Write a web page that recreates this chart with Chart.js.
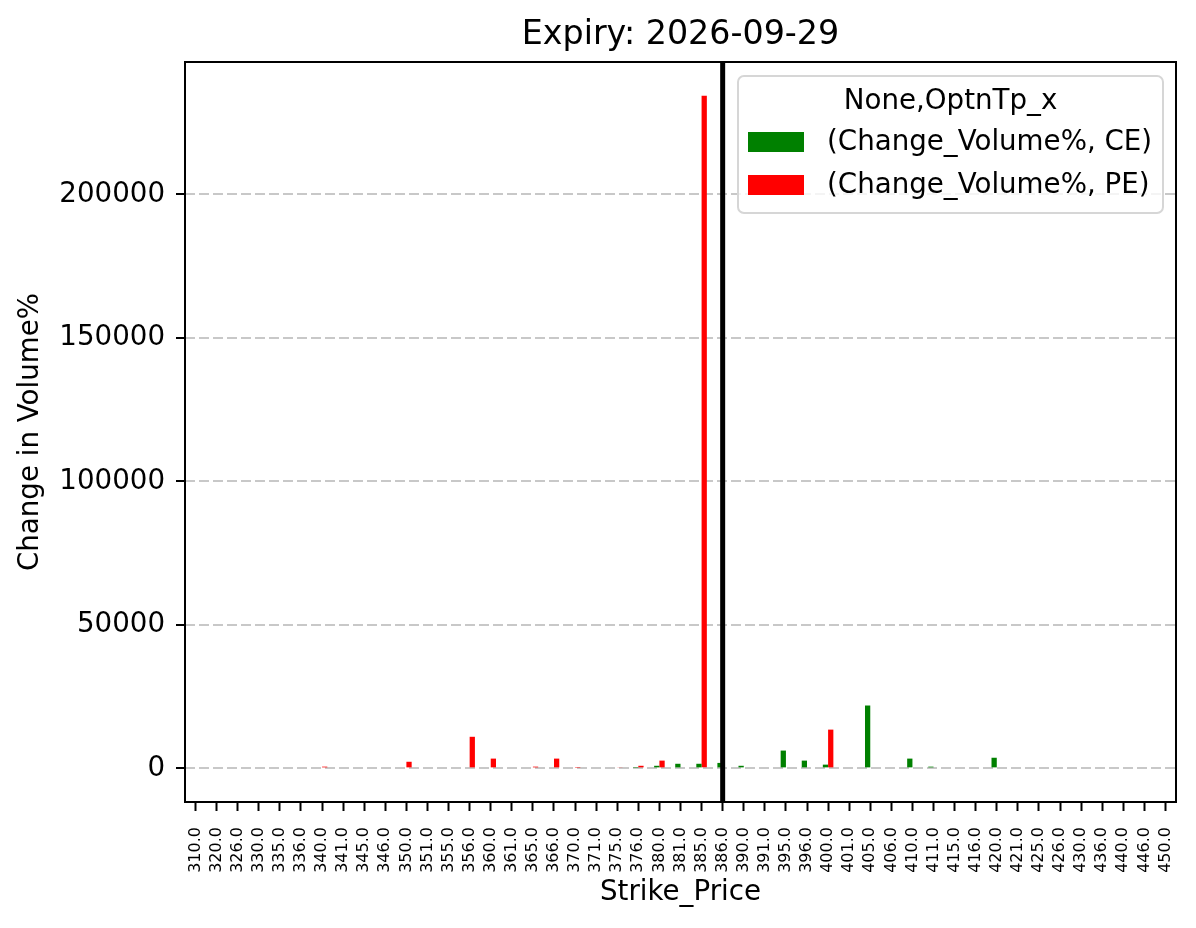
<!DOCTYPE html>
<html>
<head>
<meta charset="utf-8">
<title>Expiry: 2026-09-29</title>
<script src="https://cdn.jsdelivr.net/npm/chart.js@4.4.1/dist/chart.umd.min.js"></script>
<style>
  html, body { margin: 0; padding: 0; background: #fff; }
  #wrap { width: 1196px; height: 928px; }
</style>
</head>
<body>
<div id="wrap"><canvas id="volChart" width="1196" height="928"></canvas></div>
<script>
// strike prices (x categories)
const strikes = ['310.0', '320.0', '326.0', '330.0', '335.0', '336.0', '340.0', '341.0', '345.0', '346.0',
  '350.0', '351.0', '355.0', '356.0', '360.0', '361.0', '365.0', '366.0', '370.0', '371.0',
  '375.0', '376.0', '380.0', '381.0', '385.0', '386.0', '390.0', '391.0', '395.0', '396.0',
  '400.0', '401.0', '405.0', '406.0', '410.0', '411.0', '415.0', '416.0', '420.0', '421.0',
  '425.0', '426.0', '430.0', '436.0', '440.0', '446.0', '450.0'];

// Change_Volume% for calls (CE)
const ceValues = [0, 0, 0, 0, 0, 0, 0, 0, 0, 0,
  0, 0, 0, 0, 0, 0, 0, 0, 0, 0,
  0, 200, 900, 1600, 1600, 1900, 900, 0, 6200, 2700,
  1300, 0, 21900, 0, 3400, 600, 0, 0, 3700, 0,
  0, 0, 0, 0, 0, 0, 0];

// Change_Volume% for puts (PE)
const peValues = [0, 0, 0, 0, 0, 0, 600, 0, 0, 0,
  2300, 0, 0, 11000, 3400, 0, 600, 3400, 200, 0,
  300, 900, 2700, 0, 234400, 0, 0, 0, 0, 0,
  13500, 0, 0, 0, 0, 0, 0, 0, 0, 0,
  0, 0, 0, 0, 0, 0, 0];

const yTicks = [0, 50000, 100000, 150000, 200000];
const spotStrike = '386.0'; // vertical marker line
const legendTitle = 'None,OptnTp_x';

const FONT = 'DejaVu Sans';
const FS = 27.7; // 10pt @ 200dpi

// matplotlib-style 5% margins
const dataMax = Math.max(...ceValues, ...peValues);
const yMin = -0.05 * dataMax;
const yMax = 1.05 * dataMax;

// frame, spot line, title and legend drawn on top of the chart
const decorPlugin = {
    id: 'decor',
    afterDatasetsDraw(chart) {
        const { ctx, chartArea: a, scales } = chart;
        const xPix = scales.x.getPixelForValue(strikes.indexOf(spotStrike));
        ctx.save();
        ctx.strokeStyle = '#000';
        ctx.lineWidth = 5;
        ctx.beginPath();
        ctx.moveTo(xPix, a.top);
        ctx.lineTo(xPix, a.bottom);
        ctx.stroke();
        ctx.restore();
    },
    afterDraw(chart) {
        const { ctx, chartArea: a } = chart;
        ctx.save();
        // axes frame
        ctx.strokeStyle = '#000';
        ctx.lineWidth = 2;
        ctx.strokeRect(a.left, a.top, a.right - a.left, a.bottom - a.top);

        // title
        ctx.fillStyle = '#000';
        ctx.font = `33.3px "${FONT}"`;
        ctx.textAlign = 'center';
        ctx.textBaseline = 'middle';
        ctx.fillText('Expiry: 2026-09-29', (a.left + a.right) / 2, 35);

        // legend box
        const lx = 738, ly = 76, lw = 425, lh = 137, r = 6;
        ctx.beginPath();
        ctx.roundRect(lx, ly, lw, lh, r);
        ctx.fillStyle = 'rgba(255,255,255,0.8)';
        ctx.fill();
        ctx.strokeStyle = '#d6d6d6';
        ctx.lineWidth = 2;
        ctx.stroke();

        ctx.fillStyle = '#000';
        ctx.font = `${FS}px "${FONT}"`;
        ctx.textAlign = 'center';
        ctx.fillText(legendTitle, lx + lw / 2, 102);

        ctx.textAlign = 'left';
        chart.data.datasets.forEach((ds, i) => {
            const cy = 142 + i * 43;
            ctx.fillStyle = ds.backgroundColor;
            ctx.fillRect(748, cy - 10, 56, 20);
            ctx.fillStyle = '#000';
            ctx.fillText(ds.label, 827, cy + 1);
        });
        ctx.restore();
    }
};

const ctx = document.getElementById('volChart').getContext('2d');
new Chart(ctx, {
    type: 'bar',
    data: {
        labels: strikes,
        datasets: [
            { label: '(Change_Volume%, CE)', data: ceValues, backgroundColor: '#008000' },
            { label: '(Change_Volume%, PE)', data: peValues, backgroundColor: '#ff0000' }
        ]
    },
    options: {
        responsive: false,
        animation: false,
        devicePixelRatio: 1,
        categoryPercentage: 0.5,
        barPercentage: 1.0,
        layout: { padding: { top: 62, right: 20, left: 0, bottom: 0 } },
        plugins: {
            legend: { display: false },
            tooltip: { enabled: false },
            title: { display: false }
        },
        scales: {
            x: {
                afterFit: s => { s.height = 126; s.paddingLeft = 0; s.paddingRight = 0; },
                grid: {
                    display: true, drawOnChartArea: false, drawTicks: true, offset: false,
                    tickLength: 9, tickColor: '#000', tickWidth: 2
                },
                border: { display: false },
                ticks: {
                    autoSkip: false, maxRotation: 90, minRotation: 90, padding: 16,
                    color: '#000', font: { family: FONT, size: 16 }
                },
                title: {
                    display: true, text: 'Strike_Price', color: '#000',
                    font: { family: FONT, size: FS }, padding: { top: 0, bottom: 19 }
                }
            },
            y: {
                min: yMin,
                max: yMax,
                afterFit: s => { s.width = 185; s.paddingTop = 0; s.paddingBottom = 0; },
                afterBuildTicks: s => { s.ticks = yTicks.map(v => ({ value: v })); },
                grid: {
                    color: 'rgba(176,176,176,0.7)', lineWidth: 2,
                    tickLength: 9, tickColor: '#000', tickWidth: 2, tickBorderDash: []
                },
                border: { display: false, dash: [10, 4] },
                ticks: {
                    padding: 11, color: '#000', font: { family: FONT, size: FS },
                    callback: v => String(v)
                },
                title: {
                    display: true, text: 'Change in Volume%', color: '#000',
                    font: { family: FONT, size: FS }, padding: { top: 14, bottom: 0 }
                }
            }
        }
    },
    plugins: [decorPlugin]
});
</script>
</body>
</html>
